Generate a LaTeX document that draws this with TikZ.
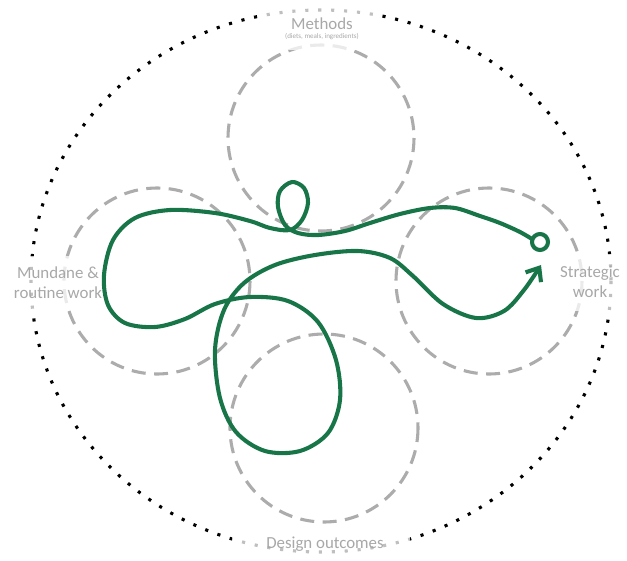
\documentclass[tikz,border=0pt]{standalone}
\usepackage{fontspec}
\setmainfont{Carlito}
\usetikzlibrary{arrows.meta}
\definecolor{loopgreen}{RGB}{24,117,72}
\definecolor{ringgray}{RGB}{172,172,172}
\definecolor{labelgray}{RGB}{168,168,168}
\begin{document}
\begin{tikzpicture}[x=0.025cm, y=-0.025cm, line join=round,
  ring/.style={ringgray, line width=2.2pt, dash pattern=on 10pt off 6pt},
  border/.style={black, line width=2.2pt, dash pattern=on 2.2pt off 7pt},
  veil/.style={white, opacity=0.75},
  lbl/.style={text=labelgray, align=center, inner sep=0pt, font=\fontsize{12}{14.2}\selectfont},
  route/.style={loopgreen, line width=2.9pt, line cap=round}]

  \useasboundingbox (0,0) rectangle (627,561);

  \coordinate (C) at (321,281);
  \coordinate (Mc) at (321,138);
  \coordinate (Lc) at (157,281);
  \coordinate (Rc) at (489,281);
  \coordinate (Dc) at (324,428);

  % outer ring
  \draw[border] (C) ellipse [x radius=290, y radius=271];

  % the four areas
  \draw[ring] (Mc) circle [radius=93];
  \draw[ring] (Lc) circle [radius=93];
  \draw[ring] (Rc) circle [radius=93];
  \draw[ring] (Dc) circle [radius=94];

  % label backgrounds
  \fill[veil] (262,6) rectangle (380,50);
  \fill[veil] (8,256) rectangle (102,309);
  \fill[veil] (558,254) rectangle (624,311);
  \fill[veil] (232,531) rectangle (410,559);

  \node[lbl] (methods) at (322,24) {Methods};
  \node[lbl, font=\fontsize{5}{6}\selectfont] (methodsnote) at (322,37) {(diets, meals, ingredients)};
  \node[lbl] (mundane) at (58,283) {Mundane \&\\routine work};
  \node[lbl] (strategic) at (590,282) {Strategic\\work};
  \node[lbl] (design) at (325,544) {Design outcomes};

  % the journey
  \draw[route] (540,242) circle [radius=8];
  \draw[route, -{Straight Barb[length=8pt, width=13pt]}] plot[smooth, tension=0.55] coordinates {
    (532,239) (520,232) (500,223) (480,216) (455,208) (430,208) (400,214)
    (370,223) (345,231) (318,235) (298,233) (285,225) (278,207) (280,191)
    (292,182) (304,188) (308,203) (302,220) (290,230) (270,228) (250,221)
    (215,213) (170,210) (135,218) (113,240) (104,275) (108,305) (125,323)
    (155,327) (185,319) (215,304) (250,297) (288,301) (318,322) (336,360)
    (340,400) (328,433) (300,451) (265,451) (236,432) (220,398) (215,350)
    (224,310) (244,283) (275,265) (315,255) (358,251) (390,258) (413,276)
    (443,304) (476,318) (504,311) (524,290) (541,265)};

\end{tikzpicture}
\end{document}
